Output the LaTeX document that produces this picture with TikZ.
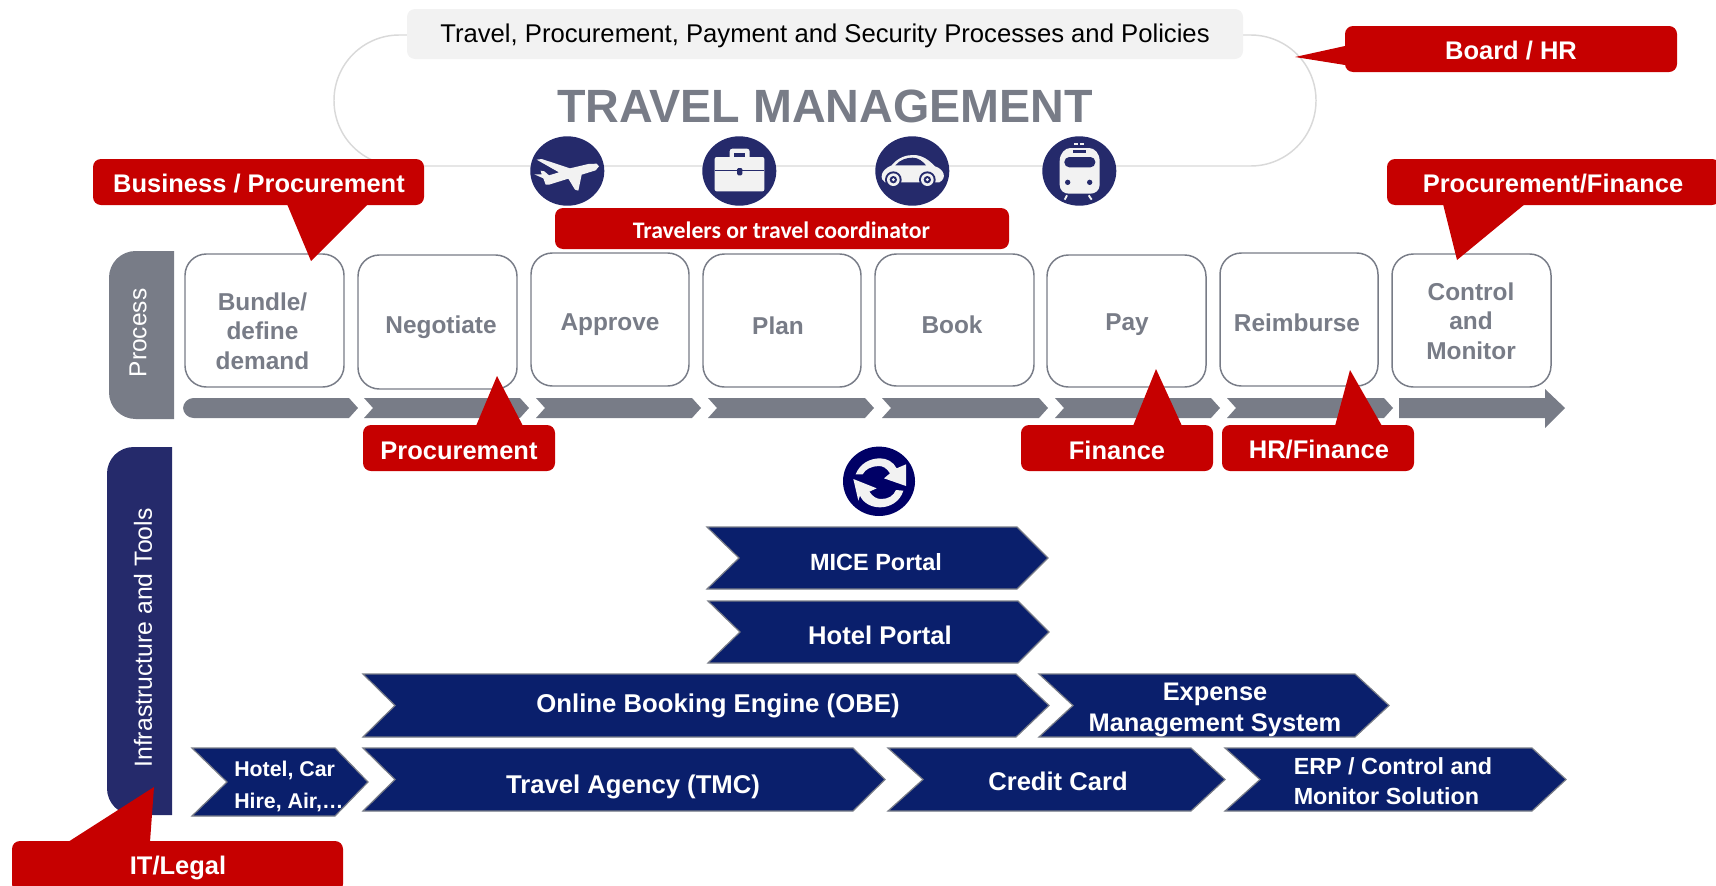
\documentclass[tikz,border=0pt]{standalone}
\usepackage{fontspec}
\setmainfont{Liberation Sans}
\newfontfamily\calibrilike{Carlito}
\definecolor{callred}{HTML}{C60000}
\definecolor{procgray}{HTML}{787C87}
\definecolor{tabnavy}{HTML}{252A6B}
\definecolor{chevnavy}{HTML}{0A1F6C}
\definecolor{syncnavy}{HTML}{000066}
\definecolor{iconwhite}{HTML}{F2F2F2}
\tikzset{
  callbox/.style={fill=callred,rounded corners=6pt},
  calltext/.style={text=white,font=\fontsize{19.1}{23}\selectfont\bfseries,inner sep=0pt},
  procbox/.style={draw=procgray,line width=1.1pt,rounded corners=16pt,fill=white},
  proctext/.style={text=procgray,font=\fontsize{18.3}{22}\selectfont\bfseries,align=center,inner sep=0pt},
  chevtext/.style={text=white,font=\fontsize{#1}{23}\selectfont\bfseries,align=center,inner sep=0pt},
  chevtext/.default=19.2,
  tabtext/.style={text=white,font=\fontsize{#1}{22}\selectfont,rotate=90,inner sep=0pt},
  icon/.style={fill=iconwhite},
}
\begin{document}
\begin{tikzpicture}[x=0.75pt,y=-0.75pt]
\useasboundingbox (0,0) rectangle (1716,885);

%cadre titre
\draw[gray!30,line width=1.1pt,rounded corners=49pt] (334,35) rectangle (1316,166);
\fill[iconwhite,rounded corners=6pt] (407,9) rectangle (1243,59);
\node[text=black,font=\fontsize{19.25}{23}\selectfont,inner sep=0pt] (policies) at (825,36) {Travel, Procurement, Payment and Security Processes and Policies};
\node[text=procgray,font=\fontsize{35}{40}\selectfont\bfseries,inner sep=0pt] (title) at (825,106) {TRAVEL MANAGEMENT};

%icones
\foreach \name/\cx in {plane/567.3,case/739.3,car/912.3,train/1079.3}
  \fill[tabnavy] (\cx,171) ellipse[x radius=37,y radius=34.7] coordinate (\name);

%avion
\begin{scope}[shift={(525,133)},x=0.25pt,y=-0.25pt]
\fill[icon] (222,100) -- (212,112) -- (170,125) -- (160,173) -- (150,170) -- (130,137) -- (72,155) -- (62,155) -- (55,136) -- (28,124) -- (50,124) -- (47,113) -- (58,115) -- (72,127) -- (102,118) -- (35,80) -- (50,78) -- (135,106) -- (190,93) -- (215,92) -- cycle;
\end{scope}

%valise
\begin{scope}[shift={(697,133)},x=0.25pt,y=-0.25pt]
\fill[icon,rounded corners=1.5pt] (53,72) rectangle (202,175);
\fill[icon,rounded corners=2pt] (98,85) rectangle (158,47);
\fill[tabnavy] (112,60) rectangle (145,72);
\draw[tabnavy,line width=0.6pt] (53,112) -- (202,112);
\fill[tabnavy,rounded corners=1pt] (120,105) rectangle (136,127);
\end{scope}

%voiture
\begin{scope}[shift={(870,133)},x=0.25pt,y=-0.25pt]
\fill[icon] (45,148) .. controls (30,140) and (28,112) .. (65,97) .. controls (85,72) and (110,66) .. (130,66) .. controls (160,66) and (180,85) .. (195,100) .. controls (222,108) and (232,135) .. (208,148) -- cycle;
\fill[tabnavy] (76,97) .. controls (90,80) and (110,74) .. (128,74) .. controls (145,74) and (158,85) .. (168,97) -- cycle;
\foreach \wx in {70,172}{
  \fill[tabnavy] (\wx,140) circle[radius=25];
  \fill[icon] (\wx,140) circle[radius=19];
  \fill[tabnavy] (\wx,140) circle[radius=11];
  \fill[icon] (\wx,140) circle[radius=5];
}
\end{scope}

%train
\begin{scope}[shift={(1037,133)},x=0.25pt,y=-0.25pt]
\fill[icon] (68,85) .. controls (68,60) and (85,45) .. (100,45) -- (156,45) .. controls (172,45) and (188,60) .. (188,85) -- (188,155) .. controls (188,172) and (175,182) .. (160,182) -- (96,182) .. controls (80,182) and (68,172) .. (68,155) -- cycle;
\fill[tabnavy,rounded corners=3.7pt] (82,72) rectangle (175,103);
\fill[tabnavy] (108,50) rectangle (148,60);
\fill[tabnavy] (92,148) circle[radius=8];
\fill[tabnavy] (158,148) circle[radius=8];
\fill[icon] (110,30) rectangle (122,36);
\fill[icon] (128,30) rectangle (140,36);
\draw[draw=iconwhite,line width=1.4pt] (90,187) -- (83,200);
\draw[draw=iconwhite,line width=1.4pt] (155,187) -- (164,200);
\end{scope}

%onglets
\fill[procgray] (174,251) [rounded corners=20pt] -- (109,251) -- (109,419) [sharp corners] -- (174,419) -- cycle;
\fill[tabnavy] (172,447) [rounded corners=20pt] -- (107,447) -- (107,815) [sharp corners] -- (172,815) -- cycle;
\node[tabtext=18.4] (process) at (138,333) {Process};
\node[tabtext=18.6] (infra) at (143,638) {Infrastructure and Tools};

%etapes
\foreach \xa/\xb/\ya/\yb in {185/344/254/387,358/517/255/389,531/689/253/386,703/861/254/387,875/1034/254/386,1047/1206/255/387,1220/1378/253/386,1392/1551/254/387}
  \draw[procbox] (\xa,\ya) rectangle (\xb,\yb);
\node[proctext] (bundle) at (262.5,331) {Bundle/\\define\\demand};
\node[proctext] (negotiate) at (441,327) {Negotiate};
\node[proctext] (approve) at (610,325) {Approve};
\node[proctext] (plan) at (778,326) {Plan};
\node[proctext] (book) at (952,325) {Book};
\node[proctext] (pay) at (1127,325) {Pay};
\node[proctext] (reimburse) at (1297,323) {Reimburse};
\node[proctext] (control) at (1471,321) {Control\\and\\Monitor};

%barres
\fill[procgray] (349,398) -- (358,408) -- (349,418) [rounded corners=8pt] -- (183,418) -- (183,398) [sharp corners] -- (349,398) -- cycle;
\foreach \xa/\xb in {364/529,536/701,708/874,882/1048,1055/1220,1227/1393}
  \fill[procgray] (\xa,398) -- ({\xb-9},398) -- (\xb,408) -- ({\xb-9},418) -- (\xa,418) -- ({\xa+9},408) -- cycle;
\fill[procgray] (1399,398) -- (1545,398) -- (1545,389) -- (1565,408) -- (1545,428) -- (1545,418) -- (1399,418) -- cycle;

%chevrons
\foreach \xa/\xn/\xp/\xb/\ya/\yb in {707/739/1017/1048/527/589,708/740/1018/1049/601/663,363/395/1016/1049/674/737,1039/1073/1355/1389/674/737,192/227/335/368/748/816,363/395/853/885/748/811,888/923/1191/1225/748/811,1225/1260/1532/1566/748/811}
  \draw[fill=chevnavy,draw=procgray,line width=0.9pt,line join=miter] (\xa,\ya) -- (\xp,\ya) -- (\xb,{(\ya+\yb)/2}) -- (\xp,\yb) -- (\xa,\yb) -- (\xn,{(\ya+\yb)/2}) -- cycle;
\node[chevtext=17.6] (mice) at (876,562) {MICE Portal};
\node[chevtext] (hotelportal) at (880,635) {Hotel Portal};
\node[chevtext=19.3] (obe) at (718,706) {Online Booking Engine (OBE)};
\node[chevtext=19.05] (expense) at (1215,710) {Expense\\Management System};
\node[chevtext=16,font=\fontsize{16}{24}\selectfont\bfseries,align=left,anchor=west] (hotelcar) at (234,786) {Hotel, Car\\Hire, Air,…};
\node[chevtext=19.25] (agency) at (633,787) {Travel Agency (TMC)};
\node[chevtext] (credit) at (1058,781) {Credit Card};
\node[chevtext=17.5,align=left,anchor=west] (erp) at (1293.5,781) {ERP / Control and\\Monitor Solution};

%synchro
\fill[syncnavy] (879,481.3) ellipse[x radius=36,y radius=34.7] coordinate (sync);
\begin{scope}[shift={(680,430)},x=0.25pt,y=-0.25pt]
\fill[icon] (527,133) .. controls (540,100) and (570,85) .. (600,85) .. controls (620,85) and (640,95) .. (650,115) -- (678,103) -- (678,168) -- (612,145) -- (630,130) .. controls (620,115) and (610,108) .. (597,108) .. controls (575,108) and (555,118) .. (548,133) -- cycle;
\fill[icon] (520,147) -- (590,175) -- (568,185) .. controls (578,200) and (590,207) .. (603,207) .. controls (625,207) and (640,198) .. (648,180) -- (670,182) .. controls (660,215) and (630,232) .. (600,232) .. controls (575,232) and (550,220) .. (540,197) -- (535,212) -- cycle;
\end{scope}

%bulles
\fill[callbox] (1345,26) rectangle (1677,72);
\fill[callred] (1295,57) -- (1345,46) -- (1345,65) -- cycle;
\node[calltext] (board) at (1511,51) {Board / HR};

\fill[callbox] (93,159) rectangle (424,205);
\fill[callred] (311,261) -- (287,204) -- (368,204) -- cycle;
\node[calltext] (business) at (259,184) {Business / Procurement};

\fill[callbox] (555,208) rectangle (1009,249);
\node[text=white,font=\fontsize{17.8}{21}\calibrilike\bfseries,inner sep=0pt] (travelers) at (781.5,230) {Travelers or travel coordinator};

\fill[callbox] (1387,159) rectangle (1720,205);
\fill[callred] (1457,260) -- (1443,204) -- (1525,204) -- cycle;
\node[calltext] (procfin) at (1553,184) {Procurement/Finance};

\fill[callbox] (363,425) rectangle (555,471);
\fill[callred] (497,376) -- (476,426) -- (523,426) -- cycle;
\node[calltext] (procurement) at (459,451) {Procurement};

\fill[callbox] (1021,425) rectangle (1213,471);
\fill[callred] (1156,369) -- (1133,426) -- (1182,426) -- cycle;
\node[calltext] (finance) at (1117,450) {Finance};

\fill[callbox] (1222,425) rectangle (1414,471);
\fill[callred] (1350,370) -- (1335,426) -- (1382,426) -- cycle;
\node[calltext] (hrfinance) at (1319,450) {HR/Finance};

\fill[callbox] (12,841) rectangle (343,892);
\fill[callred] (154,787) -- (68,842) -- (150,842) -- cycle;
\node[calltext] (itlegal) at (178,868) {IT/Legal};
\end{tikzpicture}
\end{document}
